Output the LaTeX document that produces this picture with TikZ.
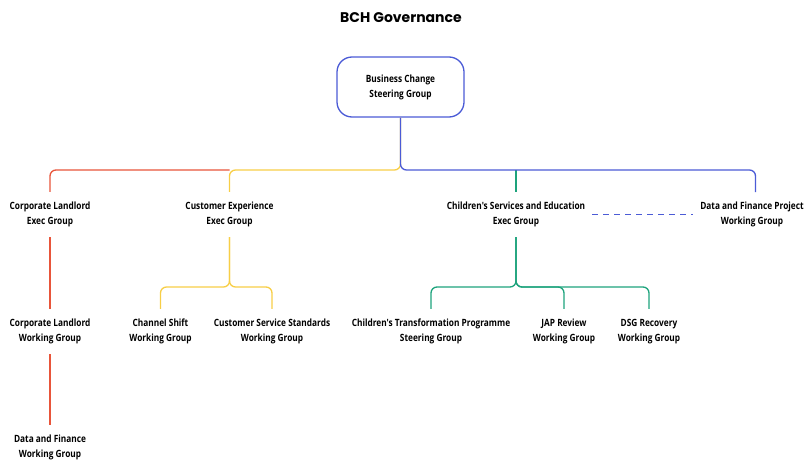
\documentclass[tikz,border=0pt]{standalone}
\usepackage{fontspec}
\newfontfamily\lblfont{Open Sans}[FakeStretch=0.83]
\newfontfamily\titlefont{Poppins}
\usetikzlibrary{calc}
\definecolor{cred}{HTML}{E8553A}
\definecolor{cyel}{HTML}{F7CE46}
\definecolor{cblue}{HTML}{4B5BD6}
\definecolor{cgreen}{HTML}{1DA37C}
\begin{document}
\begin{tikzpicture}[x=1pt,y=-1pt,
  lbl/.style={align=center,inner xsep=7pt,inner ysep=10pt,font=\lblfont\bfseries\fontsize{10}{15}\selectfont},
  conn/.style={line width=1.3pt,rounded corners=6pt},
  topbox/.style={draw=cblue,line width=1.3pt,rounded corners=15pt,minimum width=127pt,minimum height=60pt,align=center,font=\lblfont\bfseries\fontsize{10}{15}\selectfont}]
\useasboundingbox (0,0) rectangle (805,463);
\node[font=\titlefont\bfseries\fontsize{14}{16}\selectfont] (title) at (401,18) {BCH Governance};
\node[topbox] (top) at (400.5,87) {Business Change\\Steering Group};
\coordinate (bus) at (0,170);
\coordinate (bus2) at (0,287);
% exec level
\node[lbl] (cl) at (50,214.5) {Corporate Landlord\\Exec Group};
\node[lbl] (ce) at (229.5,214.5) {Customer Experience\\Exec Group};
\node[lbl] (cse) at (516,214.5) {Children's Services and Education\\Exec Group};
\node[lbl] (dfp) at (752,214.5) {Data and Finance Project\\Working Group};
\coordinate (dfptop) at (755.5,192);
% working level
\node[lbl] (clw) at (50,331.5) {Corporate Landlord\\Working Group};
\node[lbl] (cs) at (160.5,331.5) {Channel Shift\\Working Group};
\node[lbl] (css) at (272,331.5) {Customer Service Standards\\Working Group};
\node[lbl] (ctp) at (431,331.5) {Children's Transformation Programme\\Steering Group};
\node[lbl] (jap) at (564,331.5) {JAP Review\\Working Group};
\node[lbl] (dsg) at (649,331.5) {DSG Recovery\\Working Group};
\node[lbl] (df) at (50,447.5) {Data and Finance\\Working Group};
% top connectors
\draw[conn,cred] (ce.north |- bus) -| (cl.north);
\draw[conn,cyel] (top.south) |- (ce.north |- bus) -- (ce.north);
\draw[conn,cgreen] (cse.north |- bus) -- (cse.north);
\draw[conn,cblue] (top.south) |- (dfptop |- bus) -- (dfptop);
\draw[cblue,line width=1.3pt,dash pattern=on 6pt off 5pt] (cse.east) -- (dfp.west);
% lower connectors
\draw[conn,cred] (cl.south) -- (clw.north);
\draw[conn,cred] (clw.south) -- (df.north);
\draw[conn,cyel] (ce.south) |- (cs.north |- bus2) -- (cs.north);
\draw[conn,cyel] (ce.south) |- (css.north |- bus2) -- (css.north);
\draw[conn,cgreen] (cse.south) |- (ctp.north |- bus2) -- (ctp.north);
\draw[conn,cgreen] (cse.south) |- (jap.north |- bus2) -- (jap.north);
\draw[conn,cgreen] (cse.south) |- (dsg.north |- bus2) -- (dsg.north);
\end{tikzpicture}
\end{document}
